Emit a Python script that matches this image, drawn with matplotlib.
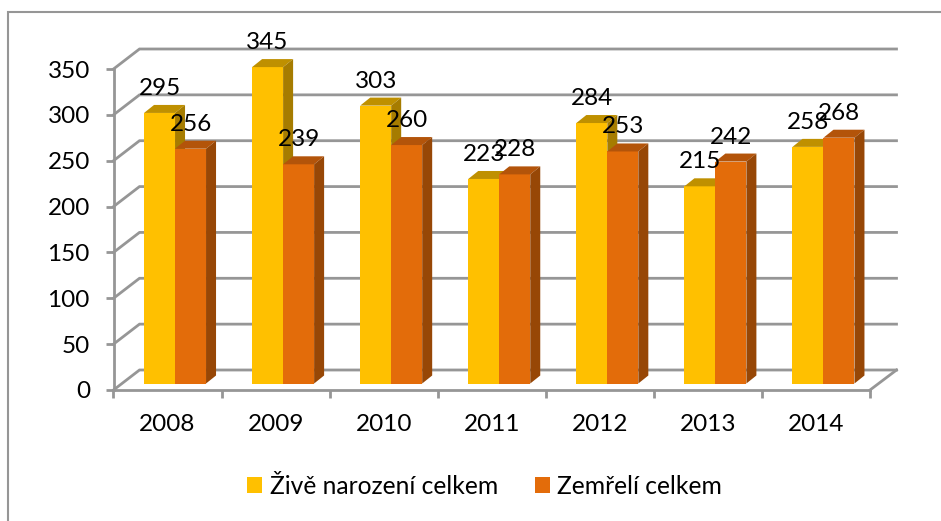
import matplotlib
matplotlib.use("Agg")
import matplotlib.pyplot as plt
from matplotlib.lines import Line2D
from matplotlib.patches import Polygon, Rectangle

years = ["2008", "2009", "2010", "2011", "2012", "2013", "2014"]
zivi = [295, 345, 303, 223, 284, 215, 258]
zemreli = [256, 239, 260, 228, 253, 242, 268]
y_ticks = [0, 50, 100, 150, 200, 250, 300, 350]

W, H = 941, 521
YELLOW = ("#ffc000", "#bf9000", "#a67c00")
ORANGE = ("#e36c0a", "#b3540a", "#974706")
GRID = "#969696"
FS = 17.5

plt.rcParams["font.family"] = ["Lato", "DejaVu Sans"]
fig = plt.figure(figsize=(W / 100, H / 100), dpi=100)

# frame of the chart: only the left and top edges are in the crop
fig.add_artist(Line2D([7.5 / W, 7.5 / W, 1], [0, 1 - 12 / H, 1 - 12 / H],
                      color=GRID, lw=1.5, solid_joinstyle="miter"))

# front floor edge runs 113.5..870 px, value axis 390..69 px
ax = fig.add_axes([113.5 / W, 1 - 390 / H, 756.5 / W, 321 / H])
ax.set_xlim(-0.5, 6.5)
ax.set_ylim(0, 350)
ax.patch.set_visible(False)

px = 7 / 756.5    # one pixel in x data units
py = 350 / 321    # one pixel in y data units

# back wall gridlines with the slanted side wall
for v in y_ticks:
    ax.plot([-0.5, -0.5 + 26 * px, 6.5 + 26.5 * px], [v, v + 20 * py, v + 20 * py],
            color=GRID, lw=2, clip_on=False, zorder=1, solid_joinstyle="miter")
ax.plot([6.5, 6.5 + 26.5 * px], [0, 20 * py], color=GRID, lw=2, clip_on=False, zorder=1)

for s in ["top", "right"]:
    ax.spines[s].set_visible(False)
for s in ["left", "bottom"]:
    ax.spines[s].set_color(GRID)
    ax.spines[s].set_linewidth(2)

ax.set_yticks(y_ticks)
ax.set_xticks([i - 0.5 for i in range(8)])
ax.set_xticklabels([])
ax.set_xticks(range(7), years, minor=True)
ax.tick_params(axis="both", which="major", color=GRID, width=2, length=6, labelsize=FS)
ax.tick_params(axis="x", which="minor", length=0, pad=17.5, labelsize=FS)
ax.tick_params(axis="y", pad=11)

# bars stand a little inside the floor
bar_w = 31 * px
shift_x = 7.5 * px
base = 6.5 * py
dx = 10 * px
dy = 8 * py


def bar3d(x0, value, cols, z):
    top = value + base
    ax.bar(x0, value, bar_w, bottom=base, align="edge", color=cols[0], zorder=z, clip_on=False)
    ax.add_patch(Polygon([(x0, top), (x0 + bar_w, top), (x0 + bar_w + dx, top + dy), (x0 + dx, top + dy)],
                         fc=cols[1], ec="none", zorder=z, clip_on=False))
    ax.add_patch(Polygon([(x0 + bar_w, base), (x0 + bar_w + dx, base + dy),
                          (x0 + bar_w + dx, top + dy), (x0 + bar_w, top)],
                         fc=cols[2], ec="none", zorder=z, clip_on=False))


for i in range(len(years)):
    bar3d(i + shift_x - bar_w, zivi[i], YELLOW, 3)
    bar3d(i + shift_x, zemreli[i], ORANGE, 4)

# data labels sit above the bars, they overlap the same way as in the original
for i in range(len(years)):
    ax.text(i + shift_x - bar_w / 2, zivi[i] + base + 24.5 * py, str(zivi[i]), ha="center", va="center",
            fontsize=FS, color="black", zorder=6, clip_on=False)
    ax.text(i + shift_x + bar_w / 2, zemreli[i] + base + 24.5 * py, str(zemreli[i]), ha="center", va="center",
            fontsize=FS, color="black", zorder=6, clip_on=False)

# legend
handles = [Rectangle((0, 0), 1, 1, fc=YELLOW[0]), Rectangle((0, 0), 1, 1, fc=ORANGE[0])]
fig.legend(handles, ["Živě narození celkem", "Zemřelí celkem"], loc="center",
           bbox_to_anchor=(484.5 / W, 1 - 486 / H), ncol=2, frameon=False, fontsize=17.7,
           handlelength=0.61, handleheight=0.61, handletextpad=0.3, columnspacing=1.5)

fig.savefig("out.png", dpi=100)
